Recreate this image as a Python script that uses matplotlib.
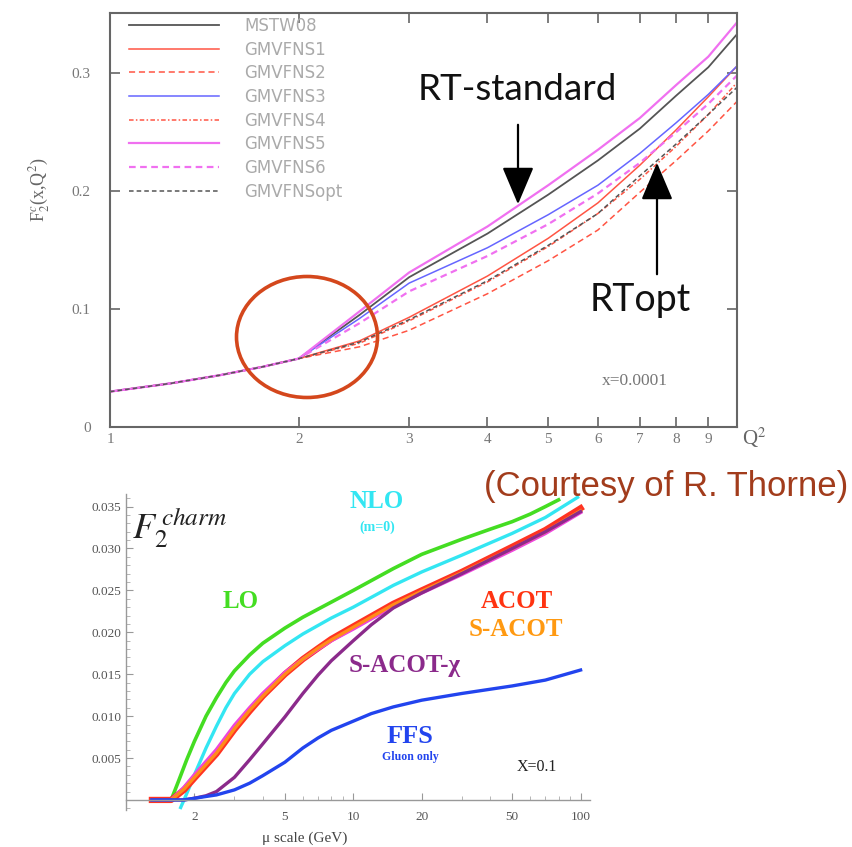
import numpy as np
import matplotlib.pyplot as plt
from matplotlib.patches import Ellipse
from matplotlib.ticker import FixedLocator, FixedFormatter, MultipleLocator, NullFormatter

plt.rcParams['mathtext.fontset'] = 'stix'

W, H = 853, 847

# --- top panel : F2c(x,Q2), x=0.0001 (GM-VFNS variants) ---
q2 = [1, 1.25, 1.5, 1.75, 2, 2.5, 3, 4, 5, 6, 7, 8, 9, 10]
f2_low = [0.030, 0.037, 0.044, 0.051, 0.058]
f2_mstw08 = f2_low + [0.095, 0.127, 0.164, 0.197, 0.226, 0.253, 0.281, 0.305, 0.333]
f2_s1 = f2_low + [0.073, 0.093, 0.128, 0.160, 0.190, 0.222, 0.252, 0.280, 0.306]
f2_s2 = f2_low + [0.068, 0.082, 0.113, 0.141, 0.167, 0.199, 0.226, 0.251, 0.276]
f2_s3 = f2_low + [0.092, 0.122, 0.152, 0.180, 0.205, 0.232, 0.258, 0.282, 0.306]
f2_s4 = f2_low + [0.071, 0.090, 0.123, 0.153, 0.181, 0.210, 0.238, 0.265, 0.292]
f2_s5 = f2_low + [0.098, 0.131, 0.170, 0.205, 0.235, 0.262, 0.290, 0.314, 0.343]
f2_s6 = f2_low + [0.088, 0.115, 0.145, 0.172, 0.198, 0.224, 0.250, 0.274, 0.298]
f2_opt = f2_low + [0.072, 0.091, 0.124, 0.154, 0.181, 0.213, 0.240, 0.265, 0.288]

# --- bottom panel : F2 charm, x=0.1 ---
mu_lo = [1.58, 1.7, 1.85, 2, 2.25, 2.5, 2.75, 3, 3.5, 4, 5, 6, 8, 10, 15, 20, 30,
         40, 50, 60, 70, 80]
f2c_lo = [0.0, 0.0022, 0.0048, 0.0070, 0.0100, 0.0122, 0.0140, 0.0154, 0.0173,
          0.0187, 0.0205, 0.0218, 0.0236, 0.0250, 0.0276, 0.0293, 0.0311, 0.0323,
          0.0332, 0.0341, 0.0350, 0.0358]
mu_nlo = [1.74, 1.8, 1.9, 2, 2.25, 2.5, 2.75, 3, 3.5, 4, 5, 6, 8, 10, 15, 20, 30,
          50, 70, 97]
f2c_nlo = [-0.0009, 0.0, 0.0015, 0.0030, 0.0062, 0.0088, 0.0110, 0.0127, 0.0150,
           0.0165, 0.0184, 0.0198, 0.0217, 0.0230, 0.0256, 0.0272, 0.0292, 0.0318,
           0.0337, 0.0361]
mu_acot = [1.3, 1.58, 1.8, 2, 2.5, 3, 3.5, 4, 5, 6, 7, 8, 10, 15, 20, 30, 50, 70, 100]
f2c_acot = [0.0, 0.0, 0.0012, 0.0026, 0.0055, 0.0084, 0.0106, 0.0124, 0.0150,
            0.0168, 0.0181, 0.0192, 0.0207, 0.0234, 0.0250, 0.0272, 0.0302, 0.0322,
            0.0348]
f2c_sacot = [0.0, 0.0, 0.0013, 0.0027, 0.0056, 0.0085, 0.0107, 0.0124, 0.0150,
             0.0168, 0.0181, 0.0191, 0.0206, 0.0233, 0.0249, 0.0271, 0.0300, 0.0320,
             0.0345]
f2c_acot_m = [0.0, 0.0, 0.0015, 0.0030, 0.0060, 0.0089, 0.0110, 0.0127, 0.0152,
              0.0168, 0.0180, 0.0190, 0.0204, 0.0231, 0.0247, 0.0269, 0.0298, 0.0318,
              0.0343]
mu_chi = [1.3, 1.8, 2, 2.25, 2.5, 3, 3.5, 4, 5, 6, 7, 8, 10, 12, 15, 20, 30, 50, 70, 100]
f2c_chi = [0.0, 0.0, 0.0002, 0.0005, 0.0010, 0.0027, 0.0048, 0.0067, 0.0099, 0.0127,
           0.0149, 0.0166, 0.0190, 0.0209, 0.0229, 0.0247, 0.0270, 0.0300, 0.0320,
           0.0344]
mu_ffs = [1.3, 1.8, 2, 2.5, 3, 3.5, 4, 5, 6, 7, 8, 10, 12, 15, 20, 30, 50, 70, 100]
f2c_ffs = [0.0, 0.0, 0.0002, 0.0006, 0.0012, 0.0020, 0.0029, 0.0045, 0.0062, 0.0074,
           0.0083, 0.0094, 0.0103, 0.0111, 0.0119, 0.0127, 0.0136, 0.0143, 0.0155]


def fx(x):
    # pixel x -> figure fraction
    return x / W


def fy(y):
    # pixel y (from top) -> figure fraction
    return 1 - y / H


fig = plt.figure(figsize=(W / 100, H / 100), dpi=100)

# ================= top panel =================
ax1 = fig.add_axes([fx(110), fy(427), (737 - 110) / W, (427 - 13) / H])
gris = '#666666'
ax1.plot(q2, f2_mstw08, color='#555555', lw=1.3, label='MSTW08')
ax1.plot(q2, f2_s1, color='#ff5544', lw=1.1, label='GMVFNS1')
ax1.plot(q2, f2_s2, color='#ff5544', lw=1.1, ls=(0, (4, 2.5)), label='GMVFNS2')
ax1.plot(q2, f2_s3, color='#6666ff', lw=1.1, label='GMVFNS3')
ax1.plot(q2, f2_s4, color='#ff5544', lw=1.1, ls=(0, (3, 1.5, 1, 1.5)), label='GMVFNS4')
ax1.plot(q2, f2_s5, color='#f070f0', lw=1.6, label='GMVFNS5')
ax1.plot(q2, f2_s6, color='#f070f0', lw=1.6, ls=(0, (3, 2)), label='GMVFNS6')
ax1.plot(q2, f2_opt, color='#555555', lw=1.1, ls=(0, (3, 2)), label='GMVFNSopt')

ax1.set_xscale('log')
ax1.set_xlim(1, 10)
ax1.set_ylim(0, 0.351)
ax1.xaxis.set_major_locator(FixedLocator(range(1, 10)))
ax1.xaxis.set_major_formatter(FixedFormatter([str(i) for i in range(1, 10)]))
ax1.xaxis.set_minor_locator(FixedLocator([]))
ax1.set_yticks([0, 0.1, 0.2, 0.3])
ax1.set_yticklabels(['0', '0.1', '0.2', '0.3'])
ax1.tick_params(direction='in', top=True, right=True, length=7, width=1.2,
                color=gris, labelcolor='#777777', labelsize=11)
ax1.tick_params(axis='y', pad=14)
ax1.tick_params(axis='x', pad=4)
for lab in ax1.get_xticklabels() + ax1.get_yticklabels():
    lab.set_family('Liberation Serif')
for s in ax1.spines.values():
    s.set_color(gris)
    s.set_linewidth(1.5)

leg = ax1.legend(loc='upper left', bbox_to_anchor=(fx(129), fy(17)),
                 bbox_transform=fig.transFigure, frameon=False, fontsize=12,
                 handlelength=5.4, handletextpad=1.5, labelspacing=0.34,
                 borderpad=0, borderaxespad=0)
for t in leg.get_texts():
    t.set_color('#aaaaaa')

fig.text(fx(40), fy(190), r'F$_2^c$(x,Q$^2$)', rotation=90, ha='center', va='center',
         fontsize=13, color=gris, family='Liberation Serif')
fig.text(fx(742), fy(438), r'Q$^2$', ha='left', va='center', fontsize=15,
         color=gris, family='Liberation Serif')
fig.text(fx(635), fy(381), 'x=0.0001', ha='center', va='center', fontsize=12.5,
         color='#777777', family='Liberation Serif')

# annotations
fig.text(fx(517), fy(90), 'RT-standard', ha='center', va='center', fontsize=26.5,
         family='Lato', color='#111111')
fig.text(fx(640), fy(300), 'RTopt', ha='center', va='center', fontsize=27,
         family='Lato', color='#111111')
ax1.annotate('', xy=(518, H - 207), xytext=(518, H - 122), xycoords='figure pixels',
             textcoords='figure pixels',
             arrowprops=dict(arrowstyle='-|>,head_length=1.3,head_width=0.55',
                             color='black', lw=1.6, mutation_scale=18))
ax1.annotate('', xy=(657, H - 160), xytext=(657, H - 277), xycoords='figure pixels',
             textcoords='figure pixels',
             arrowprops=dict(arrowstyle='-|>,head_length=1.3,head_width=0.55',
                             color='black', lw=1.6, mutation_scale=18))
fig.add_artist(Ellipse((fx(307), fy(337)), 141 / W, 121 / H, transform=fig.transFigure,
                       fill=False, edgecolor='#d4471c', lw=2.6))
fig.text(fx(848), fy(486), '(Courtesy of R. Thorne)', ha='right', va='center',
         fontsize=25, family='Liberation Sans', color='#a23c1c')

# ================= bottom panel =================
ax2 = fig.add_axes([fx(126), fy(810), (590 - 126) / W, (810 - 494) / H])
ax2.plot(mu_lo, f2c_lo, color='#44dd22', lw=2.6)
ax2.plot(mu_nlo, f2c_nlo, color='#33e6f2', lw=2.4)
ax2.plot(mu_acot, f2c_acot, color='#ff3322', lw=4.5)
ax2.plot(mu_acot, f2c_acot_m, color='#ee44dd', lw=2.6)
ax2.plot(mu_acot, f2c_sacot, color='#ff8c1a', lw=2.4)
ax2.plot(mu_chi, f2c_chi, color='#8b2a8b', lw=2.4)
ax2.plot(mu_ffs, f2c_ffs, color='#2244ee', lw=2.4)

ax2.set_xscale('log')
ax2.set_xlim(1, 110)
ax2.set_ylim(-0.0012, 0.0365)
ax2.spines['top'].set_visible(False)
ax2.spines['right'].set_visible(False)
ax2.spines['bottom'].set_position(('data', 0))
for s in ax2.spines.values():
    s.set_color('#999999')
    s.set_linewidth(1.0)
ax2.xaxis.set_major_locator(FixedLocator([2, 5, 10, 20, 50, 100]))
ax2.xaxis.set_major_formatter(FixedFormatter(['2', '5', '10', '20', '50', '100']))
ax2.xaxis.set_minor_locator(FixedLocator([3, 4, 6, 7, 8, 9, 30, 40, 60, 70, 80, 90]))
ax2.xaxis.set_minor_formatter(NullFormatter())
ax2.yaxis.set_major_locator(FixedLocator([0.005, 0.010, 0.015, 0.020, 0.025, 0.030, 0.035]))
ax2.yaxis.set_major_formatter(FixedFormatter(['0.005', '0.010', '0.015', '0.020',
                                              '0.025', '0.030', '0.035']))
ax2.yaxis.set_minor_locator(MultipleLocator(0.001))
ax2.tick_params(which='major', direction='in', length=5, width=0.8, color='#999999',
                labelcolor='#555555', labelsize=9.5)
ax2.tick_params(which='minor', direction='in', length=3, width=0.6, color='#aaaaaa')
ax2.tick_params(axis='x', pad=8)
for lab in ax2.get_xticklabels() + ax2.get_yticklabels():
    lab.set_family('Liberation Serif')

fig.text(fx(305), fy(838), u'\u03bc scale (GeV)', ha='center', va='center', fontsize=11,
         color='#444444', family='Liberation Serif')
fig.text(fx(132), fy(528), r'$F_2^{\,charm}$', ha='left', va='center', fontsize=26,
         color='#222222')
fig.text(fx(241), fy(602), 'LO', ha='center', va='center', fontsize=18, weight='bold',
         color='#44dd22', family='Liberation Serif')
fig.text(fx(377), fy(502), 'NLO', ha='center', va='center', fontsize=18, weight='bold',
         color='#33e6f2', family='Liberation Serif')
fig.text(fx(377), fy(527), '(m=0)', ha='center', va='center', fontsize=10, weight='bold',
         color='#33e6f2', family='Liberation Serif')
fig.text(fx(517), fy(602), 'ACOT', ha='center', va='center', fontsize=18, weight='bold',
         color='#ff3311', family='Liberation Serif')
fig.text(fx(516), fy(630), 'S-ACOT', ha='center', va='center', fontsize=18, weight='bold',
         color='#ff9911', family='Liberation Serif')
fig.text(fx(405), fy(665), u'S-ACOT-\u03c7', ha='center', va='center', fontsize=18,
         weight='bold', color='#8b2a8b', family='Liberation Serif')
fig.text(fx(410), fy(736), 'FFS', ha='center', va='center', fontsize=19, weight='bold',
         color='#2244ee', family='Liberation Serif')
fig.text(fx(410), fy(757), 'Gluon only', ha='center', va='center', fontsize=8.5,
         weight='bold', color='#2244ee', family='Liberation Serif')
fig.text(fx(537), fy(767), 'X=0.1', ha='center', va='center', fontsize=11.5,
         color='#222222', family='Liberation Serif')

fig.savefig('out.png', dpi=100)
